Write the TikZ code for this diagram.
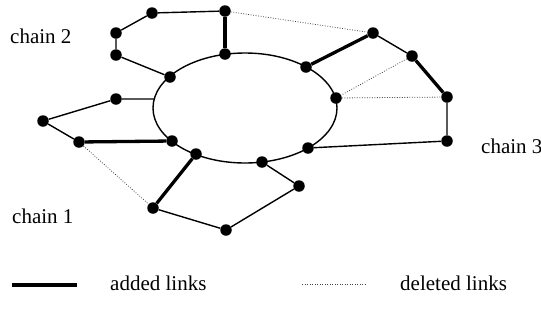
\documentclass[tikz,border=0pt]{standalone}
\usepackage{fontspec}
\setmainfont{Liberation Serif}
\begin{document}
\begin{tikzpicture}[x=1pt,y=-1pt,
  dot/.style={circle,fill=black,inner sep=0pt,minimum size=11.5pt},
  link/.style={line width=1.4pt},
  added/.style={line width=3.3pt},
  deleted/.style={line width=0.8pt,black!75,dash pattern=on 0.8pt off 1.7pt},
  lbl/.style={font=\fontsize{21}{25}\selectfont,inner sep=0pt,anchor=base west}]
\useasboundingbox (0,0) rectangle (541,330);
% ring
\draw[link] (245,108) ellipse [x radius=92, y radius=55];
% dots on ring
\node[dot] (F) at (225,54) {};
\node[dot] (E) at (170,77) {};
\coordinate (Gl) at (154,99);
\node[dot] (J) at (172,141) {};
\node[dot] (K) at (196,154) {};
\node[dot] (L) at (262,162) {};
\node[dot] (S) at (308,148) {};
\node[dot] (P) at (336,98) {};
\node[dot] (O) at (306,67) {};
% chain 2
\node[dot] (A) at (152,13) {};
\node[dot] (B) at (225,11) {};
\node[dot] (C) at (116,33) {};
\node[dot] (D) at (116,55) {};
% chain 3
\node[dot] (M) at (373,33) {};
\node[dot] (N) at (412,56) {};
\node[dot] (Q) at (447,97) {};
\node[dot] (R) at (447,141) {};
% chain 1
\node[dot] (G) at (116,99) {};
\node[dot] (H) at (43,121) {};
\node[dot] (I) at (79,142) {};
\node[dot] (T) at (153,208) {};
\node[dot] (U) at (226,230) {};
\node[dot] (V) at (299,186) {};
% links
\draw[link] (D) -- (C) -- (A) -- (B);
\draw[link] (D) -- (E);
\draw[added] (B) -- (F);
\draw[deleted] (B) -- (M);
\draw[added] (O) -- (M);
\draw[link] (M) -- (N);
\draw[added] (N) -- (Q);
\draw[deleted] (N) -- (P);
\draw[deleted] (P) -- (Q);
\draw[link] (Q) -- (R) -- (S);
\draw[link] (Gl) -- (G) -- (H) -- (I);
\draw[added] (I) -- (J);
\draw[deleted] (I) -- (T);
\draw[added] (T) -- (K);
\draw[link] (T) -- (U) -- (V) -- (L);
% labels
\node[lbl] (c2) at (10,43) {chain 2};
\node[lbl] (c1) at (12,223) {chain 1};
\node[lbl] (c3) at (481,153) {chain 3};
% legend
\coordinate (la1) at (12,285);
\coordinate (la2) at (77,285);
\draw[line width=3.8pt] (la1) -- (la2);
\node[lbl] (ta) at (110,290) {added links};
\coordinate (ld1) at (302,284);
\coordinate (ld2) at (365,284);
\draw[deleted] (ld1) -- (ld2);
\node[lbl] (td) at (400,290) {deleted links};
\end{tikzpicture}
\end{document}
